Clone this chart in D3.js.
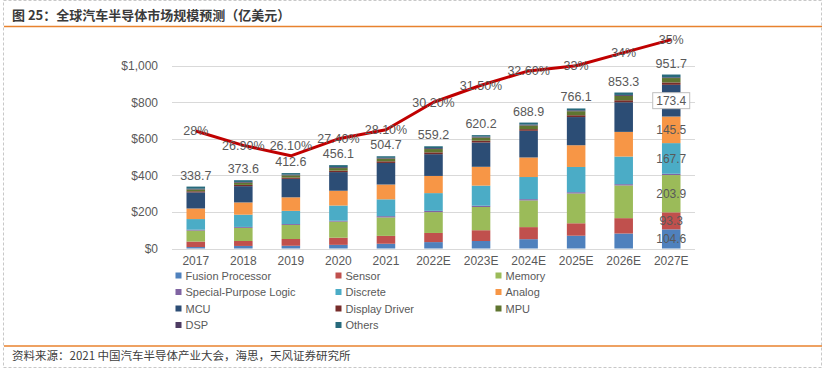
<!DOCTYPE html>
<html lang="zh">
<head>
<meta charset="UTF-8">
<title>全球汽车半导体市场规模预测</title>
<script src="https://cdn.jsdelivr.net/npm/d3@7/dist/d3.min.js"></script>
<style>
  body { margin: 0; background: #fff; }
  text { font-family: "Liberation Sans", Arial, "Noto Sans CJK SC", sans-serif; }
  .cjk { font-family: "Noto Sans CJK SC", "Liberation Sans", sans-serif; }
</style>
</head>
<body>
<div id="chart"></div>
<script>
// categories
const years = ['2017', '2018', '2019', '2020', '2021', '2022E', '2023E', '2024E', '2025E', '2026E', '2027E'];
// series names (stack order, bottom to top)
const seriesNames = ['Fusion Processor', 'Sensor', 'Memory', 'Special-Purpose Logic', 'Discrete', 'Analog',
  'MCU', 'Display Driver', 'MPU', 'DSP', 'Others'];
// series values, 亿美元
const fusion    = [8, 14, 15, 20, 26, 35, 41, 51, 70, 82, 104.6];
const sensor    = [30, 27, 37, 39, 43, 50, 59, 66, 68, 84, 93.3];
const memory    = [60, 72, 77, 88, 101, 114, 127, 146, 163, 179, 203.9];
const spLogic   = [5, 5, 5, 5, 7, 7, 7, 7, 7, 7, 7];
const discrete  = [58, 67, 72, 83, 92, 97, 110, 121, 138, 151, 167.7];
const analog    = [58, 67, 74, 81, 81, 94, 103, 107, 119, 135, 145.5];
const mcu       = [88, 89, 101, 102, 118, 119, 133, 146, 154, 162, 173.4];
const dispDrv   = [6, 7, 7, 8, 9, 10, 10, 9, 10, 11, 13];
const mpu       = [10, 12, 12, 14, 15, 18, 17, 20, 22, 24, 24];
const dsp       = [4, 4, 4, 5, 4, 5, 5, 5, 5, 5, 4];
const others    = [11.7, 9.6, 8.6, 11.1, 8.7, 10.2, 8.2, 10.9, 10.1, 13.3, 15.3];
// totals shown above bars
const totals    = [338.7, 373.6, 412.6, 456.1, 504.7, 559.2, 620.2, 688.9, 766.1, 853.3, 951.7];
// share of global semiconductor market (%)
const share     = [28, 26.9, 26.1, 27.4, 28.1, 30.2, 31.5, 32.6, 33, 34, 35];
const shareText = ['28%', '26.90%', '26.10%', '27.40%', '28.10%', '30.20%', '31.50%', '32.60%', '33%', '34%', '35%'];
// y tick values
const yTicks = [0, 200, 400, 600, 800, 1000];

const seriesValues = [fusion, sensor, memory, spLogic, discrete, analog, mcu, dispDrv, mpu, dsp, others];
const colors = ['#4F81BD', '#C0504D', '#9BBB59', '#8064A2', '#4BACC6', '#F79646',
  '#2C4D75', '#772C2A', '#5F7530', '#4D3B62', '#276A7C'];

const width = 826, height = 374;
const textGray = '#595959';

const svg = d3.select('#chart').append('svg')
  .attr('width', width)
  .attr('height', height);

svg.append('rect').attr('width', width).attr('height', height).attr('fill', '#fff');

// dashed frame
svg.append('rect')
  .attr('x', 3.5).attr('y', 0.5)
  .attr('width', 818).attr('height', 367)
  .attr('fill', 'none')
  .attr('stroke', '#c8c8c8')
  .attr('stroke-dasharray', '3,2');

// title
svg.append('text')
  .attr('class', 'cjk')
  .attr('x', 12).attr('y', 20)
  .attr('font-size', 13)
  .attr('font-weight', 'bold')
  .attr('fill', '#3a3a3a')
  .text('图 25：全球汽车半导体市场规模预测（亿美元）');

svg.append('line')
  .attr('x1', 4).attr('x2', 822)
  .attr('y1', 26.5).attr('y2', 26.5)
  .attr('stroke', '#E8822E').attr('stroke-width', 1.5);

// scales
const x = d3.scaleBand()
  .domain(years)
  .range([172, 695])
  .paddingInner(0.61)
  .paddingOuter(0.305);

const y = d3.scaleLinear().domain([0, 1000]).range([248.5, 65.7]);
const yPct = d3.scaleLinear().domain([19, 33]).range([248.5, 65.7]);

// grid
svg.append('g').selectAll('line')
  .data(yTicks)
  .join('line')
  .attr('x1', 172).attr('x2', 695)
  .attr('y1', d => Math.round(y(d)) + 0.5)
  .attr('y2', d => Math.round(y(d)) + 0.5)
  .attr('stroke', '#d9d9d9');

// y axis labels
const yAxis = svg.append('g')
  .attr('transform', 'translate(165,0)')
  .call(d3.axisLeft(y).tickValues(yTicks).tickSize(0).tickPadding(7)
    .tickFormat(d => '$' + d3.format(',')(d)));
yAxis.select('.domain').remove();
yAxis.selectAll('text').attr('font-size', 12).attr('fill', textGray)
  .attr('font-family', '"Liberation Sans", Arial, sans-serif');

// x axis labels
const xAxis = svg.append('g')
  .attr('transform', 'translate(0,252)')
  .call(d3.axisBottom(x).tickSize(0).tickPadding(4));
xAxis.select('.domain').remove();
xAxis.selectAll('text').attr('font-size', 12).attr('fill', textGray)
  .attr('font-family', '"Liberation Sans", Arial, sans-serif');

// stacked bars
const table = years.map((yr, i) => {
  const row = { year: yr };
  seriesNames.forEach((s, k) => { row[s] = seriesValues[k][i]; });
  return row;
});
const stacked = d3.stack().keys(seriesNames)(table);

svg.append('g').selectAll('g')
  .data(stacked)
  .join('g')
  .attr('fill', (d, k) => colors[k])
  .selectAll('rect')
  .data(d => d)
  .join('rect')
  .attr('x', d => x(d.data.year))
  .attr('y', d => y(d[1]))
  .attr('width', x.bandwidth())
  .attr('height', d => y(d[0]) - y(d[1]));

// totals
svg.append('g').selectAll('text')
  .data(years)
  .join('text')
  .attr('x', d => x(d) + x.bandwidth() / 2)
  .attr('y', (d, i) => y(totals[i]) - 7)
  .attr('text-anchor', 'middle')
  .attr('font-size', 12.5)
  .attr('fill', textGray)
  .text((d, i) => totals[i].toFixed(1));

// share line
const line = d3.line()
  .x((d, i) => x(years[i]) + x.bandwidth() / 2)
  .y(d => yPct(d));

svg.append('path')
  .datum(share)
  .attr('d', line)
  .attr('fill', 'none')
  .attr('stroke', '#C00000')
  .attr('stroke-width', 3)
  .attr('stroke-linejoin', 'round');

svg.append('g').selectAll('text')
  .data(share)
  .join('text')
  .attr('x', (d, i) => x(years[i]) + x.bandwidth() / 2)
  .attr('y', (d, i) => yPct(d) + 4.5 - (i === 2 ? 10 : 0))
  .attr('text-anchor', 'middle')
  .attr('font-size', 12.5)
  .attr('fill', textGray)
  .text((d, i) => shareText[i]);

// segment labels on the last bar
const last = years.length - 1;
const labelled = ['Fusion Processor', 'Sensor', 'Memory', 'Discrete', 'Analog', 'MCU'];
const segLabels = stacked.filter(s => labelled.includes(s.key)).map(s => ({
  key: s.key,
  v: s[last].data[s.key],
  mid: (s[last][0] + s[last][1]) / 2
}));
const cx = x(years[last]) + x.bandwidth() / 2;

const mcuLab = segLabels.find(d => d.key === 'MCU');
svg.append('rect')
  .attr('x', cx - 18.5).attr('y', y(mcuLab.mid) - 8)
  .attr('width', 37).attr('height', 16)
  .attr('fill', '#fff')
  .attr('stroke', '#bfbfbf');

svg.append('g').selectAll('text')
  .data(segLabels)
  .join('text')
  .attr('x', cx)
  .attr('y', d => y(d.mid) + 4.5)
  .attr('text-anchor', 'middle')
  .attr('font-size', 12)
  .attr('fill', textGray)
  .text(d => d.v.toFixed(1));

// legend
const legX = [175.5, 335.5, 495.5];
const legend = svg.append('g').selectAll('g')
  .data(seriesNames)
  .join('g')
  .attr('transform', (d, i) => `translate(${legX[i % 3]},${275.5 + Math.floor(i / 3) * 16.5})`);
legend.append('rect')
  .attr('x', 0).attr('y', -3)
  .attr('width', 6).attr('height', 6)
  .attr('fill', (d, i) => colors[i]);
legend.append('text')
  .attr('x', 10).attr('y', 4)
  .attr('font-size', 11)
  .attr('fill', textGray)
  .text(d => d);

// footer
svg.append('line')
  .attr('x1', 4).attr('x2', 822)
  .attr('y1', 346).attr('y2', 346)
  .attr('stroke', '#E8822E').attr('stroke-width', 1.5);

svg.append('text')
  .attr('class', 'cjk')
  .attr('x', 12).attr('y', 360)
  .attr('font-size', 11.5)
  .attr('fill', '#404040')
  .text('资料来源：2021 中国汽车半导体产业大会，海思，天风证券研究所');
</script>
</body>
</html>
